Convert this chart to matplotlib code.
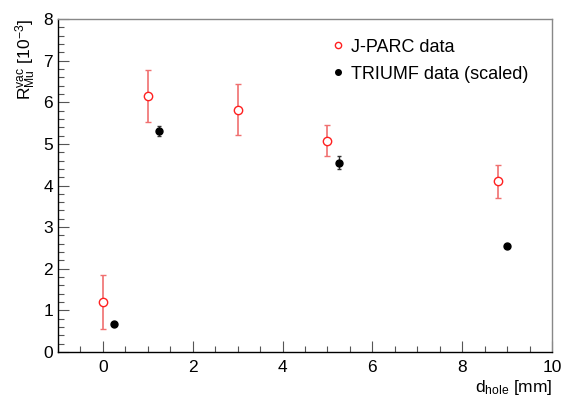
import matplotlib
matplotlib.use('Agg')
import matplotlib.pyplot as plt
from matplotlib.lines import Line2D
from matplotlib.ticker import MultipleLocator

plt.rcParams['font.family'] = ['Liberation Sans', 'DejaVu Sans']
plt.rcParams['mathtext.fontset'] = 'custom'
plt.rcParams['mathtext.rm'] = 'Liberation Sans'
plt.rcParams['mathtext.it'] = 'Liberation Sans'

# J-PARC data
jparc_x = [0.0, 1.0, 3.0, 5.0, 8.8]
jparc_y = [1.20, 6.15, 5.82, 5.08, 4.10]
jparc_err = [0.64, 0.63, 0.61, 0.38, 0.40]

# TRIUMF data (scaled)
triumf_x = [0.25, 1.25, 5.25, 9.0]
triumf_y = [0.68, 5.30, 4.55, 2.55]
triumf_err = [0.03, 0.12, 0.15, 0.04]

fig = plt.figure(figsize=(5.81, 3.96), dpi=100)
ax = fig.add_axes([58 / 581, 44 / 396, 494 / 581, 333 / 396])

ax.errorbar(jparc_x, jparc_y, yerr=jparc_err, fmt='none', ecolor='#f07070',
            elinewidth=1.2, capsize=2.5, capthick=1.0, zorder=2)
ax.plot(jparc_x, jparc_y, 'o', ms=6, mfc='white', mec='#ff2020', mew=1.0,
        ls='none', zorder=3)
ax.errorbar(triumf_x, triumf_y, yerr=triumf_err, fmt='none', ecolor='#333333',
            elinewidth=1.0, capsize=1.5, zorder=2)
ax.plot(triumf_x, triumf_y, 'o', ms=5, color='black', ls='none', zorder=3)

ax.set_xlim(-1, 10)
ax.set_ylim(0, 8)
ax.xaxis.set_major_locator(MultipleLocator(2))
ax.xaxis.set_minor_locator(MultipleLocator(0.5))
ax.yaxis.set_major_locator(MultipleLocator(1))
ax.yaxis.set_minor_locator(MultipleLocator(0.2))
ax.tick_params(which='both', direction='in', top=False, right=False,
               labelsize=12.5, width=0.8, color='#555555')
ax.tick_params(which='major', length=8)
ax.tick_params(which='minor', length=4)
ax.tick_params(axis='x', pad=6)
for sp in ax.spines.values():
    sp.set_linewidth(1.0)
ax.spines['top'].set_color('#888888')
ax.spines['right'].set_color('#888888')

ax.set_xlabel(r'd$_{\mathrm{hole}}$ [mm]', fontsize=12.5, loc='right', labelpad=2)
ax.set_ylabel(r'R$^{\mathrm{vac}}_{\mathrm{Mu}}$ [10$^{-3}$]', fontsize=12.5,
              loc='top', labelpad=4)

handles = [
    Line2D([], [], marker='o', ls='none', ms=4.5, mfc='white', mec='#ff2020', mew=1.0),
    Line2D([], [], marker='o', ls='none', ms=4, color='black'),
]
labels = ['J-PARC data', 'TRIUMF data (scaled)']
ax.legend(handles, labels, loc='upper right', bbox_to_anchor=(0.985, 0.99),
          frameon=False, fontsize=13, handletextpad=0.1, handlelength=1.2,
          labelspacing=0.55)

fig.savefig('out.png', dpi=100)
